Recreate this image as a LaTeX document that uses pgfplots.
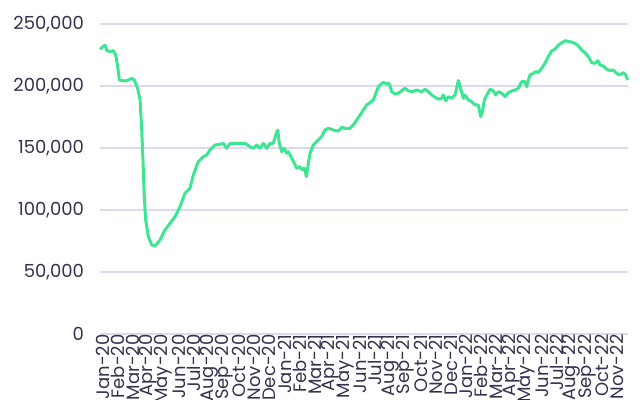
\documentclass[border=0pt]{standalone}
\usepackage{pgfplots}
\pgfplotsset{compat=1.18}
\usepackage{fontspec}
\setmainfont{Poppins}
\definecolor{txt}{HTML}{33324F}
\definecolor{gridc}{HTML}{DCD9F0}
\definecolor{linec}{HTML}{3DE693}
\begin{document}
\begin{tikzpicture}
\begin{axis}[
  at={(0,0)}, anchor=south west,
  scale only axis, width=264pt, height=155pt,
  xmin=-0.2, xmax=34.72, ymin=0, ymax=250000,
  ytick={0,50000,100000,150000,200000,250000},
  scaled y ticks=false,
  yticklabel style={font=\fontsize{9}{10}\selectfont, text=txt, /pgf/number format/fixed, /pgf/number format/1000 sep={,}, xshift=-4.5pt},
  /pgf/number format/assume math mode=true,
  ymajorgrids, grid style={gridc, line width=0.6pt},
  axis line style={draw=none}, tick style={draw=none},
  xtick={0,...,34},
  xticklabels={Jan-20,Feb-20,Mar-20,Apr-20,May-20,Jun-20,Jul-20,Aug-20,Sep-20,Oct-20,Nov-20,Dec-20,Jan-21,Feb-21,Mar-21,Apr-21,May-21,Jun-21,Jul-21,Aug-21,Sep-21,Oct-21,Nov-21,Dec-21,Jan-22,Feb-22,Mar-22,Apr-22,May-22,Jun-22,Jul-22,Aug-22,Sep-22,Oct-22,Nov-22},
  xticklabel style={rotate=90, anchor=east, font=\fontsize{9}{10}\selectfont, text=txt, inner xsep=0pt},
  clip=false,
]
\addplot[linec, line width=1.5pt, line join=round] coordinates {
(-0.20,229600)(0.13,233000)(0.26,228500)(0.46,227700)(0.68,228500)(0.84,225000)(0.97,215600)(1.08,204800)(1.46,204000)(1.67,204800)(1.90,206200)(2.07,204800)(2.29,198000)(2.45,188700)(2.56,164500)(2.65,137700)(2.73,110700)(2.82,91900)(3.00,78500)(3.22,71800)(3.44,71000)(3.77,75800)(4.10,83900)(4.43,89300)(4.76,94600)(5.09,102700)(5.42,113500)(5.75,117500)
(5.97,128200)(6.30,139000)(6.63,143000)(6.86,144400)(7.08,148400)(7.41,152400)(7.74,153000)(7.96,153800)(8.18,149700)(8.40,153800)(8.73,153800)(9.06,153800)(9.39,153800)(9.72,151000)(9.94,149700)(10.17,152400)(10.38,149700)(10.60,153800)(10.83,149700)(11.04,153800)(11.26,153800)(11.42,160500)(11.55,164500)(11.66,153800)(11.82,147000)(11.99,149700)(12.15,145700)
(12.26,147000)(12.48,141700)(12.65,137700)(12.81,133600)(13.03,134900)(13.18,132300)(13.31,133600)(13.45,126900)(13.58,137700)(13.69,145700)(13.91,152400)(14.24,156500)(14.46,159100)(14.68,164500)(14.90,165900)(15.13,165100)(15.34,164000)(15.56,163700)(15.79,166700)(16.01,165900)(16.34,165900)(16.55,168500)(16.78,172600)(17.00,176600)(17.22,180600)(17.44,184700)(17.66,186500)(17.88,188700)(18.04,194100)(18.21,199400)
(18.32,200800)(18.54,203000)(18.76,201600)(18.92,202200)(19.09,195400)(19.31,193500)(19.53,194100)(19.76,196200)(19.97,198200)(20.19,196200)(20.42,195400)(20.75,196800)(21.08,195400)(21.30,197400)(21.51,195400)(21.74,192700)(21.96,190900)(22.18,189300)(22.40,190100)(22.51,192700)(22.67,188100)(22.84,191400)(23.06,190100)(23.28,192700)(23.50,204400)(23.68,196800)(23.83,190100)(23.94,192700)
(24.16,188700)(24.38,187300)(24.60,184700)(24.82,184700)(24.98,175300)(25.09,179300)(25.22,188700)(25.38,192700)(25.60,197400)(25.81,196200)(25.97,192700)(26.14,195400)(26.37,194100)(26.59,191400)(26.81,194800)(27.03,196000)(27.25,196800)(27.47,198200)(27.69,203500)(27.91,203500)(28.02,199400)(28.13,204800)(28.24,208900)(28.46,210200)(28.62,211600)(28.79,210800)(29.01,214300)(29.23,218300)(29.45,223600)(29.68,228500)(29.89,229600)(30.11,233000)
(30.22,233900)(30.56,236500)(30.89,235700)(31.22,234400)(31.44,232300)(31.66,229000)(31.88,226900)(32.10,223600)(32.32,218800)(32.54,218300)(32.72,220400)(32.87,216900)(33.09,216100)(33.31,213500)(33.53,212300)(33.75,212900)(33.97,210200)(34.19,208900)(34.41,210800)(34.57,208900)(34.70,204800)
};
\end{axis}
\pgfresetboundingbox
\useasboundingbox (-50pt,-33pt) rectangle (271.5pt,167pt);
\end{tikzpicture}
\end{document}
